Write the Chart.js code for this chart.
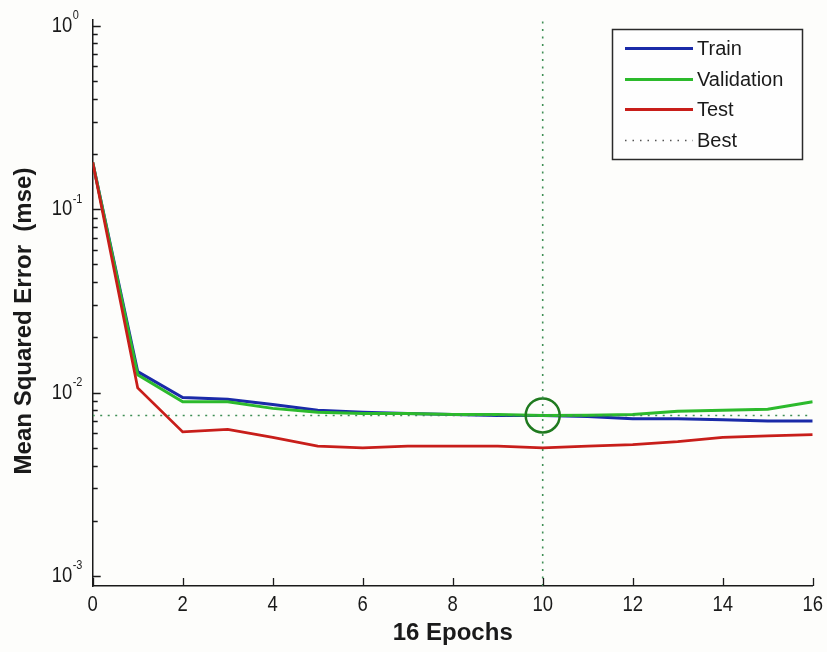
<!DOCTYPE html>
<html>
<head>
<meta charset="utf-8">
<script src="https://cdn.jsdelivr.net/npm/chart.js@4.4.1/dist/chart.umd.min.js"></script>
<style>
  html, body { margin: 0; padding: 0; background: #fdfdfb; }
  #wrap { width: 827px; height: 652px; }
</style>
</head>
<body>
<div id="wrap"><canvas id="perf" width="827" height="652"></canvas></div>
<script>
// Datos
const epochs   = [0, 1, 2, 3, 4, 5, 6, 7, 8, 9, 10, 11, 12, 13, 14, 15, 16];
const trainMse = [0.18, 0.0130, 0.0094, 0.0092, 0.0086, 0.0080, 0.0078, 0.0077, 0.0076, 0.0075, 0.0075, 0.0074, 0.0072, 0.0072, 0.0071, 0.0070, 0.0070];
const valMse   = [0.18, 0.0125, 0.0089, 0.0089, 0.0082, 0.0078, 0.0077, 0.0077, 0.0076, 0.0076, 0.0075, 0.00752, 0.0076, 0.0079, 0.0080, 0.0081, 0.0089];
const testMse  = [0.18, 0.0106, 0.0061, 0.0063, 0.0057, 0.0051, 0.0050, 0.0051, 0.0051, 0.0051, 0.0050, 0.0051, 0.0052, 0.0054, 0.0057, 0.0058, 0.0059];
const bestEpoch = 10;
const xTicks    = [0, 2, 4, 6, 8, 10, 12, 14, 16];
const yDecades  = [-3, -2, -1, 0];
const seriesLabels = ["Train", "Validation", "Test", "Best"];
const xTitle = "16 Epochs";
const yTitle = "Mean Squared Error  (mse)";

// Rango de ejes
const yMin = 0.000882, yMax = 1.074;
const bestVal = valMse[epochs.indexOf(bestEpoch)];

// Colores
const cTrain = "#1a2aa8", cVal = "#2cba2c", cTest = "#c81e1a", cBest = "#3f8f55", cCircle = "#1f7a1f";

const pts = arr => epochs.map((e, i) => ({ x: e, y: arr[i] }));

// Ticks del eje log: mayores en cada década, menores 2..9
function logTicks() {
  const out = [];
  yDecades.forEach((d, i) => {
    out.push({ value: Math.pow(10, d), major: true });
    if (i < yDecades.length - 1) {
      for (let m = 2; m <= 9; m++) out.push({ value: m * Math.pow(10, d), major: false });
    }
  });
  return out;
}

const textFont = "'Liberation Sans', Arial, sans-serif";
const squeeze = 0.84; // las etiquetas de ticks se ven estrechas

// texto comprimido horizontalmente
function narrowText(ctx, txt, x, y, align) {
  ctx.save();
  ctx.translate(x, y);
  ctx.scale(squeeze, 1);
  ctx.textAlign = align;
  ctx.fillText(txt, 0, 0);
  ctx.restore();
}

// Ejes estilo MATLAB: ticks hacia dentro, etiquetas 10^n, títulos y leyenda
const ejesMatlab = {
  id: "ejesMatlab",
  afterDatasetsDraw(chart) {
    const { ctx, chartArea: a, scales: { x, y } } = chart;
    ctx.save();
    ctx.strokeStyle = "#1a1a1a";
    ctx.lineWidth = 1.3;
    ctx.beginPath();
    x.ticks.forEach(t => {
      const px = Math.round(x.getPixelForValue(t.value)) + 0.5;
      ctx.moveTo(px, a.bottom); ctx.lineTo(px, a.bottom - 8);
    });
    y.ticks.forEach(t => {
      const py = Math.round(y.getPixelForValue(t.value)) + 0.5;
      ctx.moveTo(a.left, py); ctx.lineTo(a.left + (t.major ? 8 : 5), py);
    });
    ctx.stroke();

    ctx.fillStyle = "#1a1a1a";
    // etiquetas del eje x
    ctx.font = `22px ${textFont}`;
    ctx.textBaseline = "middle";
    x.ticks.forEach(t => {
      narrowText(ctx, String(t.value), x.getPixelForValue(t.value), a.bottom + 19, "center");
    });

    // etiquetas 10^n
    yDecades.forEach(d => {
      const py = y.getPixelForValue(Math.pow(10, d));
      ctx.font = `22px ${textFont}`;
      ctx.textBaseline = "middle";
      narrowText(ctx, "10", a.left - 20.5, py, "right");
      ctx.font = `13px ${textFont}`;
      ctx.textBaseline = "alphabetic";
      narrowText(ctx, String(d), a.left - 20, py - 6.5, "left");
    });

    // títulos
    ctx.font = `bold 24px ${textFont}`;
    ctx.textAlign = "center"; ctx.textBaseline = "middle";
    ctx.fillText(xTitle, (a.left + a.right) / 2, 633);
    ctx.save();
    ctx.translate(24, 321);
    ctx.rotate(-Math.PI / 2);
    ctx.fillText(yTitle, 0, 0);
    ctx.restore();

    // leyenda
    const box = { x: 612.5, y: 29.5, w: 190, h: 130 };
    ctx.fillStyle = "#fefefe";
    ctx.fillRect(box.x, box.y, box.w, box.h);
    ctx.strokeStyle = "#2a2a2a"; ctx.lineWidth = 1.5;
    ctx.strokeRect(box.x, box.y, box.w, box.h);
    const ds = chart.data.datasets;
    const rows = [48.5, 79.5, 109.5, 140.5];
    seriesLabels.forEach((lbl, i) => {
      const d = ds.find(s => s.label === lbl);
      ctx.beginPath();
      ctx.strokeStyle = lbl === "Best" ? "#555" : d.borderColor;
      ctx.lineWidth = lbl === "Best" ? 1.3 : 3;
      ctx.setLineDash(lbl === "Best" ? [1.5, 6] : []);
      ctx.moveTo(625, rows[i]); ctx.lineTo(693, rows[i]);
      ctx.stroke();
      ctx.setLineDash([]);
      ctx.fillStyle = "#1a1a1a";
      ctx.font = `20px ${textFont}`;
      ctx.textAlign = "left"; ctx.textBaseline = "middle";
      ctx.fillText(lbl, 697, rows[i] + 1);
    });
    ctx.restore();
  }
};

new Chart(document.getElementById("perf"), {
  type: "line",
  data: {
    datasets: [
      { label: "Best", data: [{ x: epochs[0], y: bestVal }, { x: epochs[epochs.length - 1], y: bestVal }],
        borderColor: cBest, borderWidth: 1.6, borderDash: [2, 5.5], pointRadius: 0, order: 0 },
      { label: "BestV", data: [{ x: bestEpoch, y: yMin }, { x: bestEpoch, y: yMax }],
        borderColor: cBest, borderWidth: 1.6, borderDash: [2, 5.5], pointRadius: 0, order: 0 },
      { label: "BestPt", data: [{ x: bestEpoch, y: bestVal }], showLine: false,
        pointRadius: 17, pointBorderWidth: 2.5, pointBorderColor: cCircle,
        pointBackgroundColor: "rgba(0,0,0,0)", borderColor: cCircle, order: 0 },
      { label: "Test", data: pts(testMse), borderColor: cTest, borderWidth: 2.8, pointRadius: 0, order: 1 },
      { label: "Validation", data: pts(valMse), borderColor: cVal, borderWidth: 3, pointRadius: 0, order: 2 },
      { label: "Train", data: pts(trainMse), borderColor: cTrain, borderWidth: 3, pointRadius: 0, order: 3 }
    ]
  },
  options: {
    responsive: false,
    animation: false,
    devicePixelRatio: 1,
    layout: { autoPadding: false, padding: { left: 0, top: 20, right: 14.3, bottom: 0 } },
    plugins: { legend: { display: false }, tooltip: { enabled: false } },
    elements: { line: { tension: 0 } },
    scales: {
      x: {
        type: "linear", min: 0, max: 16,
        afterBuildTicks: s => { s.ticks = xTicks.map(v => ({ value: v })); },
        afterFit: s => { s.height = 66; s.paddingLeft = 0; s.paddingRight = 0; },
        grid: { display: false, drawTicks: false },
        border: { display: true, color: "#1a1a1a", width: 1.5 },
        ticks: { display: false }
      },
      y: {
        type: "logarithmic", min: yMin, max: yMax,
        afterBuildTicks: s => { s.ticks = logTicks(); },
        afterFit: s => { s.width = 92.7; s.paddingTop = 0; s.paddingBottom = 0; },
        grid: { display: false, drawTicks: false },
        border: { display: true, color: "#1a1a1a", width: 1.5 },
        ticks: { display: false }
      }
    }
  },
  plugins: [ejesMatlab]
});
</script>
</body>
</html>
